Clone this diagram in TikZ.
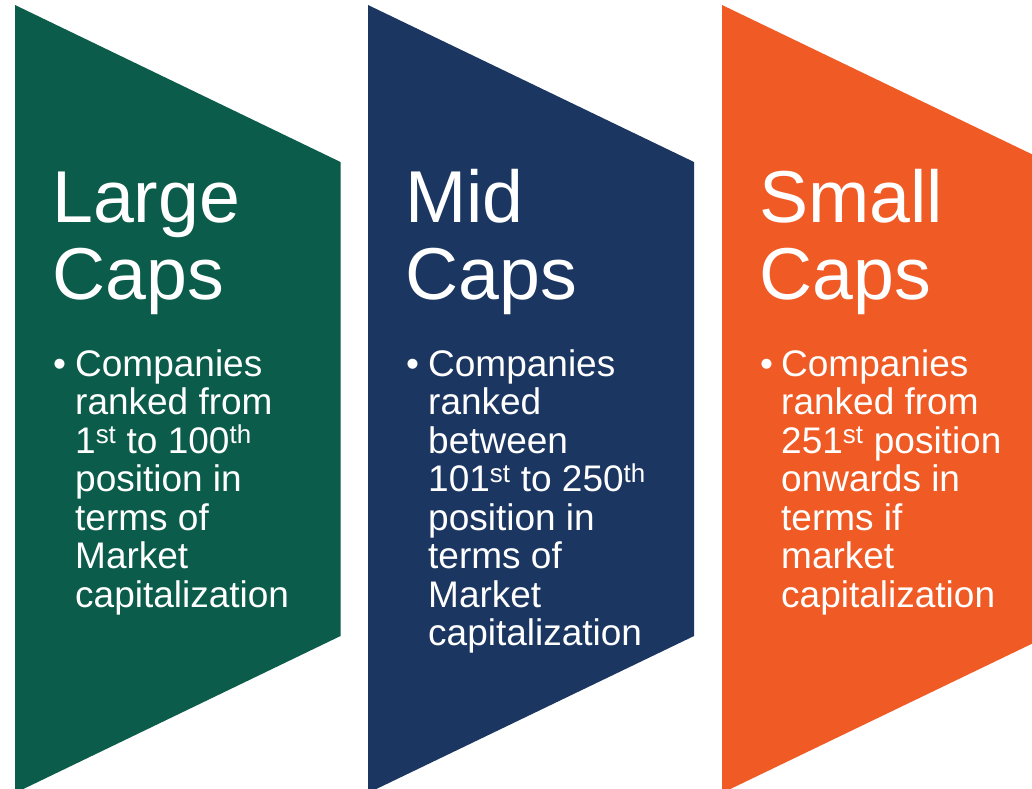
\documentclass[tikz,border=0pt]{standalone}
\usepackage{fontspec}
\setmainfont{Liberation Sans}
\definecolor{largegreen}{HTML}{0B5C4A}
\definecolor{midnavy}{HTML}{1B3661}
\definecolor{smallorange}{HTML}{F05A24}
\tikzset{
  captitle/.style={anchor=base west, inner sep=0pt, text=white, align=left,
    font=\fontsize{73.5}{77}\selectfont},
  capbullet/.style={anchor=base west, inner sep=0pt, text=white,
    font=\fontsize{37}{38.5}\selectfont},
  captext/.style={capbullet, align=left}
}
\begin{document}
\begin{tikzpicture}[x=1pt, y=-1pt]
        \clip (0,0) rectangle (1032,788);
        \fill[white] (0,0) rectangle (1032,788);
        % the three chevrons
        \fill[largegreen] (15,5) -- (340.5,162) -- (340.5,636) -- (15,793) -- cycle;
        \fill[midnavy] (368,5) -- (694,162) -- (694,636) -- (368,793) -- cycle;
        \fill[smallorange] (722,5) -- (1048,162) -- (1048,636) -- (722,793) -- cycle;
        % large caps (base anchor sits on the last line)
        \node[captitle] (largetitle) at (52,299) {Large\\Caps};
        \node[capbullet] (largedot) at (53,376) {\textbullet};
        \node[captext] (largetext) at (75,607) {Companies\\ranked from\\1\textsuperscript{st} to 100\textsuperscript{th}\\position in\\terms of\\Market\\capitalization};
        % mid caps
        \node[captitle] (midtitle) at (405,299) {Mid\\Caps};
        \node[capbullet] (middot) at (406,376) {\textbullet};
        \node[captext] (midtext) at (428,645.5) {Companies\\ranked\\between\\101\textsuperscript{st} to 250\textsuperscript{th}\\position in\\terms of\\Market\\capitalization};
        % small caps
        \node[captitle] (smalltitle) at (759,299) {Small\\Caps};
        \node[capbullet] (smalldot) at (760,376) {\textbullet};
        \node[captext] (smalltext) at (781,607) {Companies\\ranked from\\251\textsuperscript{st} position\\onwards in\\terms if\\market\\capitalization};
    \end{tikzpicture}
\end{document}
